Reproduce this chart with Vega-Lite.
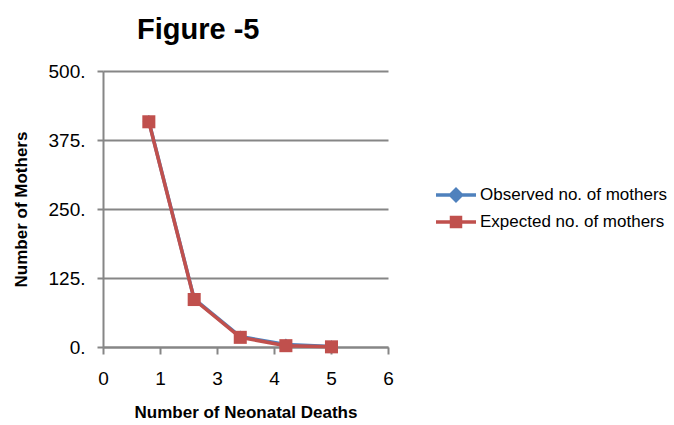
{
  "$schema": "https://vega.github.io/schema/vega-lite/v6.json",
  "width": 285,
  "height": 276,
  "autosize": {"type": "none"},
  "padding": {"left": 103, "top": 71, "right": 286, "bottom": 78},
  "background": "white",
  "config": {
    "view": {"stroke": null},
    "font": "Liberation Sans",
    "axis": {
      "domainColor": "#868686", "domainWidth": 2,
      "gridColor": "#868686", "gridWidth": 2,
      "tickColor": "#868686", "tickWidth": 2,
      "labelFont": "Liberation Sans", "labelFontSize": 19, "labelColor": "black",
      "titleFont": "Liberation Sans", "titleFontSize": 17, "titleFontWeight": "bold", "titleColor": "black"
    },
    "legend": {"labelFont": "Liberation Sans", "labelFontSize": 17, "labelColor": "black", "padding": 0, "labelLimit": 400}
  },
  "title": {
    "text": "Figure -5", "font": "Liberation Sans", "fontSize": 29, "fontWeight": "bold",
    "color": "black", "anchor": "start", "frame": "group", "dx": 34, "offset": 17
  },
  "data": {
    "values": [
      {"deaths": 0.965, "mothers": 409, "series": "Observed no. of mothers"},
      {"deaths": 1.92, "mothers": 87, "series": "Observed no. of mothers"},
      {"deaths": 2.89, "mothers": 19, "series": "Observed no. of mothers"},
      {"deaths": 3.85, "mothers": 4.5, "series": "Observed no. of mothers"},
      {"deaths": 4.81, "mothers": 1, "series": "Observed no. of mothers"},
      {"deaths": 0.965, "mothers": 408, "series": "Expected no. of mothers"},
      {"deaths": 1.92, "mothers": 86, "series": "Expected no. of mothers"},
      {"deaths": 2.89, "mothers": 17.5, "series": "Expected no. of mothers"},
      {"deaths": 3.85, "mothers": 2.4, "series": "Expected no. of mothers"},
      {"deaths": 4.81, "mothers": 0.3, "series": "Expected no. of mothers"}
    ]
  },
  "encoding": {
    "x": {
      "field": "deaths", "type": "quantitative",
      "scale": {"domain": [0, 6], "nice": false, "zero": true},
      "axis": {
        "values": [0, 1.2, 2.4, 3.6, 4.8, 6],
        "labelExpr": "datum.value < 0.5 ? '0' : datum.value < 2 ? '1' : datum.value < 3 ? '3' : datum.value < 4 ? '4' : datum.value < 5.5 ? '5' : '6'",
        "grid": false, "tickSize": 7, "labelPadding": 15, "labelFlush": false, "labelOverlap": false,
        "title": "Number of Neonatal Deaths", "titleBaseline": "alphabetic", "titleY": 70
      }
    },
    "y": {
      "field": "mothers", "type": "quantitative",
      "scale": {"domain": [0, 500], "nice": false},
      "axis": {
        "values": [0, 125, 250, 375, 500],
        "labelExpr": "datum.value + '.'",
        "tickSize": 6, "labelPadding": 12,
        "title": "Number of Mothers", "titleX": -82, "titleY": 138, "titleAngle": -90, "titleBaseline": "middle", "titleAlign": "center"
      }
    },
    "color": {
      "field": "series", "type": "nominal",
      "scale": {"domain": ["Observed no. of mothers", "Expected no. of mothers"], "range": ["#4F81BD", "#C0504D"]},
      "legend": {
        "orient": "none", "legendX": 341, "legendY": 112, "title": null,
        "symbolSize": 400, "labelOffset": 12, "rowPadding": 2,
        "encode": {
          "symbols": {
            "update": {
              "shape": {"signal": "datum.value === 'Observed no. of mothers' ? 'M-2,0H2M0,-0.55L0.55,0L0,0.55L-0.55,0Z' : 'M-2,0H2M-0.45,-0.45H0.45V0.45H-0.45Z'"},
              "fill": {"signal": "datum.value === 'Observed no. of mothers' ? '#4F81BD' : '#C0504D'"},
              "stroke": {"signal": "datum.value === 'Observed no. of mothers' ? '#4F81BD' : '#C0504D'"},
              "strokeWidth": {"value": 3.5},
              "size": {"value": 400},
              "opacity": {"value": 1}
            }
          }
        }
      }
    }
  },
  "layer": [
    {"transform": [{"filter": "datum.series === 'Observed no. of mothers'"}], "mark": {"type": "line", "strokeWidth": 3.5}},
    {"transform": [{"filter": "datum.series === 'Observed no. of mothers'"}], "mark": {"type": "point", "shape": "diamond", "filled": true, "size": 150, "opacity": 1}},
    {"transform": [{"filter": "datum.series === 'Expected no. of mothers'"}], "mark": {"type": "line", "strokeWidth": 3.5}},
    {"transform": [{"filter": "datum.series === 'Expected no. of mothers'"}], "mark": {"type": "point", "shape": "square", "filled": true, "size": 170, "opacity": 1}}
  ]
}
